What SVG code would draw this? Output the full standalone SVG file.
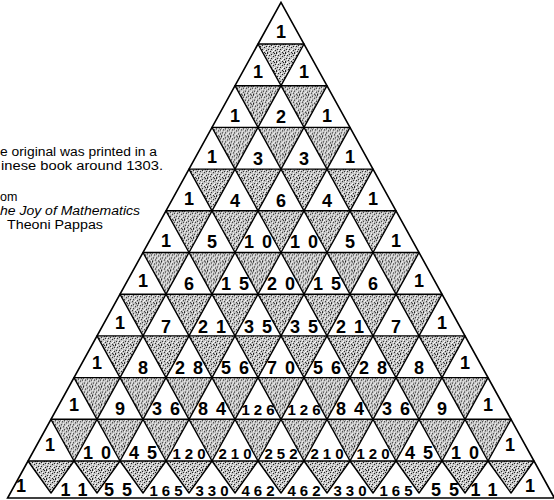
<svg xmlns="http://www.w3.org/2000/svg" width="554" height="500" viewBox="0 0 554 500">
<style>
.n{font-family:"Liberation Sans",Arial,sans-serif;font-weight:bold;font-size:18px;text-anchor:middle;fill:#000}
.n2{letter-spacing:8px}
.n3{font-size:15px;letter-spacing:4px}
.cap{font-family:"Liberation Sans",Arial,sans-serif;font-size:12.5px;fill:#000}
.it{font-style:italic}
.tri{stroke:#000;stroke-width:1.4;stroke-linejoin:round}
</style>
<defs>
<pattern id="stip" width="9" height="9" patternUnits="userSpaceOnUse">
<rect width="9" height="9" fill="#c4c4c4"/>
<path fill="#222" d="M0 0h1v1h-1zM4 1h1v1h-1zM7 0h1v1h-1zM2 2h1v1h-1zM6 3h1v1h-1zM1 5h1v1h-1zM4 5h1v1h-1zM8 6h1v1h-1zM3 7h1v1h-1zM6 8h1v1h-1zM0 8h1v1h-1zM8 2h1v1h-1z"/>
<path fill="#fff" d="M2 0h1v1h-1zM5 2h1v1h-1zM0 3h1v1h-1zM3 4h1v1h-1zM7 5h1v1h-1zM2 6h1v1h-1zM5 7h1v1h-1zM8 8h1v1h-1zM1 1h1v1h-1zM6 6h1v1h-1z"/>
</pattern>
<path id="t" class="tri" fill="url(#stip)" d="M0 0H46L23 41.7Z"/>
<path id="tb" class="tri" fill="url(#stip)" d="M0 0H46L23 32Z"/>
</defs>
<rect width="554" height="500" fill="#fff"/>
<g id="caption">
<text class="cap" x="0" y="156" textLength="157" lengthAdjust="spacingAndGlyphs">e original was printed in a</text>
<text class="cap" x="1" y="170" textLength="162" lengthAdjust="spacingAndGlyphs">inese book around 1303.</text>
<text class="cap" x="0" y="201">om</text>
<text class="cap it" x="0" y="215" textLength="140" lengthAdjust="spacingAndGlyphs">he Joy of Mathematics</text>
<text class="cap" x="7" y="229" textLength="96" lengthAdjust="spacingAndGlyphs">Theoni Pappas</text>
</g>
<g id="frame">
<polygon points="281,2.3 7.6,498 554.4,498" fill="#fff" stroke="#000" stroke-width="1.6" stroke-linejoin="miter"/>
</g>
<g id="shading">
<use href="#t" x="258" y="44"/>
<use href="#t" x="235" y="85.7"/><use href="#t" x="281" y="85.7"/>
<use href="#t" x="212" y="127.4"/><use href="#t" x="258" y="127.4"/><use href="#t" x="304" y="127.4"/>
<use href="#t" x="189" y="169.1"/><use href="#t" x="235" y="169.1"/><use href="#t" x="281" y="169.1"/><use href="#t" x="327" y="169.1"/>
<use href="#t" x="166" y="210.8"/><use href="#t" x="212" y="210.8"/><use href="#t" x="258" y="210.8"/><use href="#t" x="304" y="210.8"/><use href="#t" x="350" y="210.8"/>
<use href="#t" x="143" y="252.5"/><use href="#t" x="189" y="252.5"/><use href="#t" x="235" y="252.5"/><use href="#t" x="281" y="252.5"/><use href="#t" x="327" y="252.5"/><use href="#t" x="373" y="252.5"/>
<use href="#t" x="120" y="294.2"/><use href="#t" x="166" y="294.2"/><use href="#t" x="212" y="294.2"/><use href="#t" x="258" y="294.2"/><use href="#t" x="304" y="294.2"/><use href="#t" x="350" y="294.2"/><use href="#t" x="396" y="294.2"/>
<use href="#t" x="97" y="335.9"/><use href="#t" x="143" y="335.9"/><use href="#t" x="189" y="335.9"/><use href="#t" x="235" y="335.9"/><use href="#t" x="281" y="335.9"/><use href="#t" x="327" y="335.9"/><use href="#t" x="373" y="335.9"/><use href="#t" x="419" y="335.9"/>
<use href="#t" x="74" y="377.6"/><use href="#t" x="120" y="377.6"/><use href="#t" x="166" y="377.6"/><use href="#t" x="212" y="377.6"/><use href="#t" x="258" y="377.6"/><use href="#t" x="304" y="377.6"/><use href="#t" x="350" y="377.6"/><use href="#t" x="396" y="377.6"/><use href="#t" x="442" y="377.6"/>
<use href="#t" x="51" y="419.3"/><use href="#t" x="97" y="419.3"/><use href="#t" x="143" y="419.3"/><use href="#t" x="189" y="419.3"/><use href="#t" x="235" y="419.3"/><use href="#t" x="281" y="419.3"/><use href="#t" x="327" y="419.3"/><use href="#t" x="373" y="419.3"/><use href="#t" x="419" y="419.3"/><use href="#t" x="465" y="419.3"/>
<use href="#tb" x="28" y="461"/><use href="#tb" x="74" y="461"/><use href="#tb" x="120" y="461"/><use href="#tb" x="166" y="461"/><use href="#tb" x="212" y="461"/><use href="#tb" x="258" y="461"/><use href="#tb" x="304" y="461"/><use href="#tb" x="350" y="461"/><use href="#tb" x="396" y="461"/><use href="#tb" x="442" y="461"/><use href="#tb" x="488" y="461"/>
</g>
<g id="connectors"/>
<g id="numbers">
<g id="r0c0"><text class="n" x="281" y="38">1</text></g>
<g id="r1c0"><text class="n" x="258" y="78">1</text></g>
<g id="r1c1"><text class="n" x="304" y="78">1</text></g>
<g id="r2c0"><text class="n" x="235" y="121.5">1</text></g>
<g id="r2c1"><text class="n" x="281" y="123">2</text></g>
<g id="r2c2"><text class="n" x="327" y="121.5">1</text></g>
<g id="r3c0"><text class="n" x="212" y="163">1</text></g>
<g id="r3c1"><text class="n" x="258" y="165">3</text></g>
<g id="r3c2"><text class="n" x="304" y="165">3</text></g>
<g id="r3c3"><text class="n" x="350" y="163">1</text></g>
<g id="r4c0"><text class="n" x="189" y="205">1</text></g>
<g id="r4c1"><text class="n" x="235" y="207">4</text></g>
<g id="r4c2"><text class="n" x="281" y="207">6</text></g>
<g id="r4c3"><text class="n" x="327" y="207">4</text></g>
<g id="r4c4"><text class="n" x="373" y="205">1</text></g>
<g id="r5c0"><text class="n" x="166" y="246.5">1</text></g>
<g id="r5c1"><text class="n" x="212" y="247.5">5</text></g>
<g id="r5c2"><text class="n n2" x="262" y="247.5">10</text></g>
<g id="r5c3"><text class="n n2" x="308" y="247.5">10</text></g>
<g id="r5c4"><text class="n" x="350" y="247.5">5</text></g>
<g id="r5c5"><text class="n" x="396" y="246.5">1</text></g>
<g id="r6c0"><text class="n" x="143" y="287">1</text></g>
<g id="r6c1"><text class="n" x="189" y="290">6</text></g>
<g id="r6c2"><text class="n n2" x="239" y="290">15</text></g>
<g id="r6c3"><text class="n n2" x="285" y="290">20</text></g>
<g id="r6c4"><text class="n n2" x="331" y="290">15</text></g>
<g id="r6c5"><text class="n" x="373" y="290">6</text></g>
<g id="r6c6"><text class="n" x="419" y="287">1</text></g>
<g id="r7c0"><text class="n" x="120" y="328.5">1</text></g>
<g id="r7c1"><text class="n" x="166" y="333">7</text></g>
<g id="r7c2"><text class="n n2" x="216" y="333">21</text></g>
<g id="r7c3"><text class="n n2" x="262" y="333">35</text></g>
<g id="r7c4"><text class="n n2" x="308" y="333">35</text></g>
<g id="r7c5"><text class="n n2" x="354" y="333">21</text></g>
<g id="r7c6"><text class="n" x="396" y="333">7</text></g>
<g id="r7c7"><text class="n" x="442" y="328.5">1</text></g>
<g id="r8c0"><text class="n" x="97" y="369">1</text></g>
<g id="r8c1"><text class="n" x="143" y="373.5">8</text></g>
<g id="r8c2"><text class="n n2" x="193" y="373.5">28</text></g>
<g id="r8c3"><text class="n n2" x="239" y="373.5">56</text></g>
<g id="r8c4"><text class="n n2" x="285" y="373.5">70</text></g>
<g id="r8c5"><text class="n n2" x="331" y="373.5">56</text></g>
<g id="r8c6"><text class="n n2" x="377" y="373.5">28</text></g>
<g id="r8c7"><text class="n" x="419" y="373.5">8</text></g>
<g id="r8c8"><text class="n" x="465" y="369">1</text></g>
<g id="r9c0"><text class="n" x="74" y="410.5">1</text></g>
<g id="r9c1"><text class="n" x="120" y="415">9</text></g>
<g id="r9c2"><text class="n n2" x="170" y="415">36</text></g>
<g id="r9c3"><text class="n n2" x="216" y="415">84</text></g>
<g id="r9c4"><text class="n n3" x="260" y="415">126</text></g>
<g id="r9c5"><text class="n n3" x="306" y="415">126</text></g>
<g id="r9c6"><text class="n n2" x="354" y="415">84</text></g>
<g id="r9c7"><text class="n n2" x="400" y="415">36</text></g>
<g id="r9c8"><text class="n" x="442" y="415">9</text></g>
<g id="r9c9"><text class="n" x="488" y="410.5">1</text></g>
<g id="r10c0"><text class="n" x="50" y="451">1</text></g>
<g id="r10c1"><text class="n n2" x="101" y="459">10</text></g>
<g id="r10c2"><text class="n n2" x="147" y="459">45</text></g>
<g id="r10c3"><text class="n n3" x="191" y="459">120</text></g>
<g id="r10c4"><text class="n n3" x="237" y="459">210</text></g>
<g id="r10c5"><text class="n n3" x="283" y="459">252</text></g>
<g id="r10c6"><text class="n n3" x="329" y="459">210</text></g>
<g id="r10c7"><text class="n n3" x="375" y="459">120</text></g>
<g id="r10c8"><text class="n n2" x="423" y="459">45</text></g>
<g id="r10c9"><text class="n n2" x="469" y="459">10</text></g>
<g id="r10c10"><text class="n" x="510" y="451">1</text></g>
<g id="r11c0"><text class="n" x="21" y="492">1</text></g>
<g id="r11c1"><text class="n n2" x="78" y="496">11</text></g>
<g id="r11c2"><text class="n n2" x="122" y="496">55</text></g>
<g id="r11c3"><text class="n n3" x="168" y="496">165</text></g>
<g id="r11c4"><text class="n n3" x="214" y="496">330</text></g>
<g id="r11c5"><text class="n n3" x="260" y="496">462</text></g>
<g id="r11c6"><text class="n n3" x="306" y="496">462</text></g>
<g id="r11c7"><text class="n n3" x="352" y="496">330</text></g>
<g id="r11c8"><text class="n n3" x="398" y="496">165</text></g>
<g id="r11c9"><text class="n n2" x="449" y="496">55</text></g>
<g id="r11c10"><text class="n n2" x="488" y="496">11</text></g>
<g id="r11c11"><text class="n" x="530" y="492">1</text></g>
</g>
</svg>
